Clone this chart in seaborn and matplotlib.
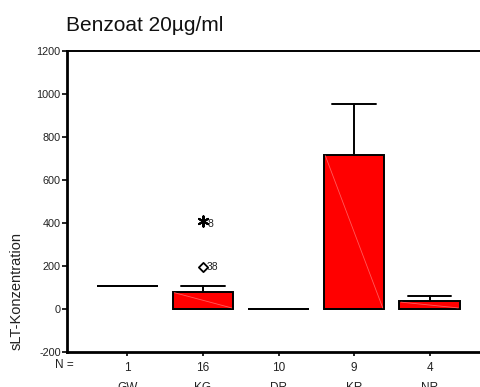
import numpy as np
import pandas as pd
import matplotlib
matplotlib.use("Agg")
import matplotlib.pyplot as plt
import seaborn as sns

# Box summary values (sLT-Konzentration)
groups = ["GW", "KG", "DR", "KR", "NR"]
n_counts = [1, 16, 10, 9, 4]
q1 = [108, 0, 0, 0, 0]
median = [108, 0, 0, 0, 0]
q3 = [108, 81, 0, 718, 37]
whis_lo = [108, 0, 0, 0, 0]
whis_hi = [108, 107, 0, 952, 62]

# outliers (circle-type) and extremes (star-type)
out_group = ["KG"]
out_value = [197]
out_label = ["38"]
ext_group = ["KG"]
ext_value = [407]
ext_label = ["8"]

sns.set_style("white")
plt.rcParams["font.family"] = ["Liberation Sans", "DejaVu Sans"]
plt.rcParams["axes.unicode_minus"] = False

fig = plt.figure(figsize=(4.8, 3.87), dpi=100)
ax = fig.add_axes([67 / 480, 1 - 352 / 387, 423 / 480, 301 / 387])

pos = np.arange(len(groups))
stats = []
for i, g in enumerate(groups):
    stats.append(dict(label=g, q1=q1[i], med=median[i], q3=q3[i],
                      whislo=whis_lo[i], whishi=whis_hi[i], fliers=[]))

ax.bxp(stats, positions=pos, widths=0.8, patch_artist=True, showfliers=False,
       boxprops=dict(facecolor="#ff0000", edgecolor="black", linewidth=1.4),
       medianprops=dict(color="black", linewidth=1.4),
       whiskerprops=dict(color="black", linewidth=1.4),
       capprops=dict(color="black", linewidth=1.4),
       capwidths=0.58)

# faint diagonal shading line inside the filled boxes
for i in range(len(groups)):
    if q3[i] > q1[i]:
        ax.plot([pos[i] - 0.38, pos[i] + 0.38], [q3[i] - 5, q1[i] + 5],
                color="#ff5a5a", lw=0.6, zorder=5)

df_out = pd.DataFrame({"x": [groups.index(g) for g in out_group], "y": out_value})
df_ext = pd.DataFrame({"x": [groups.index(g) for g in ext_group], "y": ext_value})
sns.scatterplot(data=df_out, x="x", y="y", marker="D", s=22, facecolor="white",
                edgecolor="black", linewidth=1.3, ax=ax, zorder=6, legend=False)
sns.scatterplot(data=df_ext, x="x", y="y", marker=(6, 2, 0), s=55, color="black",
                linewidth=1.5, ax=ax, zorder=6, legend=False)
for x, y, t in zip(df_out["x"], df_out["y"], out_label):
    ax.annotate(t, (x, y), xytext=(3, 0), textcoords="offset points",
                va="center", ha="left", fontsize=7.5, color="#222222")
for x, y, t in zip(df_ext["x"], df_ext["y"], ext_label):
    ax.annotate(t, (x, y), xytext=(3, -1.5), textcoords="offset points",
                va="center", ha="left", fontsize=7.5, color="#222222")

ax.set_xlim(-0.8, 4.8)
ax.set_ylim(-200, 1200)
ax.set_yticks([-200, 0, 200, 400, 600, 800, 1000, 1200])
ax.set_xticks(pos)
ax.set_xticklabels([str(n) for n in n_counts])
ax.tick_params(axis="y", length=3.5, width=1.2, pad=1, labelsize=7.8, color="black", left=True)
ax.tick_params(axis="x", length=3, width=1.2, pad=4, labelsize=8.5, color="black", bottom=True)
for lab in ax.get_yticklabels():
    lab.set_color("#222222")
for lab in ax.get_xticklabels():
    lab.set_color("#222222")

for side in ["left", "bottom", "top"]:
    ax.spines[side].set_visible(True)
    ax.spines[side].set_color("black")
ax.spines["left"].set_linewidth(2)
ax.spines["bottom"].set_linewidth(2)
ax.spines["top"].set_linewidth(1.4)
ax.spines["right"].set_visible(False)
ax.set_xlabel("")
ax.set_ylabel("")

# category names below the N row (partly cut by the figure edge, as in the source)
for i, g in enumerate(groups):
    ax.annotate(g, (pos[i], 0), xycoords=("data", "axes fraction"),
                xytext=(0, -21.5), textcoords="offset points",
                ha="center", va="top", fontsize=8.5, color="#222222")

fig.text(55 / 480, 1 - 365.5 / 387, "N =", ha="left", va="center",
         fontsize=8.5, color="#222222")
fig.text(17 / 480, 1 - 291 / 387, "sLT-Konzentration", rotation=90,
         ha="center", va="center", fontsize=10.5, color="#222222")
fig.text(66 / 480, 1 - 31 / 387, "Benzoat 20\u00b5g/ml", ha="left", va="baseline",
         fontsize=15, color="#111111")

fig.savefig("out.png", dpi=100)
